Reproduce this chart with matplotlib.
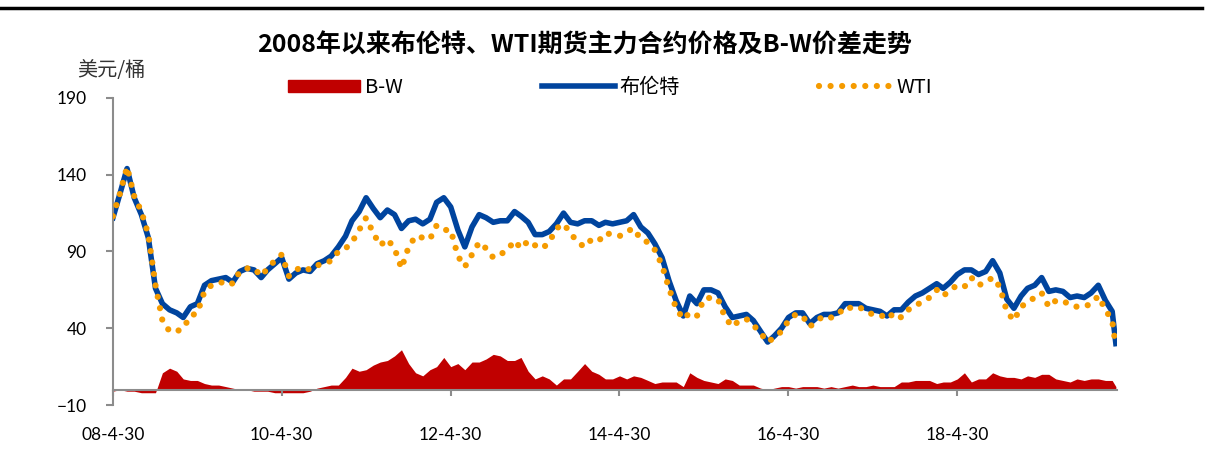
import matplotlib
matplotlib.use('Agg')
import matplotlib.pyplot as plt
import pandas as pd
from matplotlib.patches import Patch
from matplotlib.lines import Line2D

plt.rcParams['font.family'] = ['Lato', 'Noto Sans CJK SC', 'DejaVu Sans']

# Month-end prices, USD/bbl (last point is mid-March 2020)
dates = list(pd.date_range('2008-04-30', periods=143, freq=pd.offsets.MonthEnd())) + [pd.Timestamp('2020-03-16')]

brent = [
    112, 128, 144, 125, 114, 99, 66, 56, 52,
    50, 47, 54, 56, 68, 71, 72, 73, 70, 77, 79, 78,
    73, 78, 82, 86, 72, 76, 78, 77, 82, 84, 87, 93,
    100, 110, 116, 125, 118, 112, 117, 114, 105, 110, 111, 108,
    111, 122, 125, 119, 104, 93, 106, 114, 112, 109, 110, 110,
    116, 113, 109, 101, 101, 103, 108, 115, 109, 108, 110, 110,
    107, 109, 108, 109, 110, 114, 106, 102, 95, 86, 71, 58,
    48, 61, 56, 65, 65, 63, 54, 47, 48, 49, 45, 38,
    31, 35, 40, 47, 50, 50, 43, 47, 49, 49, 50, 56,
    56, 56, 53, 52, 51, 48, 52, 52, 57, 61, 63, 66,
    69, 66, 70, 75, 78, 78, 75, 77, 84, 76, 59, 53,
    61, 66, 68, 73, 64, 65, 64, 60, 61, 60, 63, 68,
    58, 51, 30,
]

wti = [
    113, 128, 145, 126, 116, 101, 68, 45, 38,
    38, 40, 48, 50, 64, 68, 69, 71, 69, 77, 79, 79,
    74, 79, 84, 88, 74, 78, 80, 78, 81, 82, 84, 90,
    92, 96, 104, 112, 102, 94, 98, 92, 79, 93, 100, 99,
    98, 107, 104, 104, 87, 80, 88, 96, 92, 86, 88, 91,
    97, 92, 97, 94, 92, 96, 105, 108, 102, 96, 93, 98,
    97, 102, 101, 100, 103, 105, 98, 96, 91, 81, 66, 53,
    46, 50, 48, 59, 60, 59, 47, 41, 45, 46, 42, 37,
    31, 34, 38, 45, 49, 48, 41, 45, 48, 47, 49, 54,
    53, 54, 51, 49, 49, 46, 50, 47, 52, 55, 57, 60,
    65, 61, 65, 68, 67, 73, 68, 70, 73, 67, 51, 45,
    54, 57, 60, 63, 54, 58, 58, 55, 54, 54, 56, 61,
    52, 45, 28,
]

tick_dates = ['2008-04-30', '2010-04-30', '2012-04-30', '2014-04-30', '2016-04-30', '2018-04-30']
tick_labels = ['08-4-30', '10-4-30', '12-4-30', '14-4-30', '16-4-30', '18-4-30']
y_ticks = [-10, 40, 90, 140, 190]

spread = [b - w for b, w in zip(brent, wti)]

red = '#C00000'
blue = '#00449E'
orange = '#F59B00'
cjk = ['Noto Sans CJK SC', 'DejaVu Sans']
dots = (0, (0.001, 1.85))

fig = plt.figure(figsize=(12.08, 4.59), dpi=100)
ax = fig.add_axes([0.0935, 0.1176, 0.831, 0.669])

ax.fill_between(dates, 0, spread, color=red, linewidth=0, zorder=1)
ax.plot(dates, brent, color=blue, linewidth=4.0, solid_joinstyle='round', zorder=2)
ax.plot(dates, wti, color=orange, linewidth=4.5, linestyle=dots,
        dash_capstyle='round', zorder=3)

ax.set_ylim(-10, 190)
ax.set_yticks(y_ticks)
ax.set_xlim(pd.Timestamp('2008-04-30'), pd.Timestamp('2020-03-20'))
ax.set_xticks([pd.Timestamp(d) for d in tick_dates])
ax.set_xticklabels(tick_labels)

for s in ['top', 'right']:
    ax.spines[s].set_visible(False)
ax.spines['left'].set_color('#8C8C8C')
ax.spines['left'].set_linewidth(1.5)
ax.spines['bottom'].set_position(('data', 0))
ax.spines['bottom'].set_color('#8C8C8C')
ax.spines['bottom'].set_linewidth(1.5)
ax.spines['bottom'].set_zorder(4)

ax.tick_params(axis='y', length=5, width=1.5, color='#8C8C8C', pad=14, labelsize=12.5)
ax.tick_params(axis='x', length=4, width=1.5, color='#8C8C8C', pad=23, labelsize=12.5)

fig.text(0.484, 0.90, '2008年以来布伦特、WTI期货主力合约价格及B-W价差走势',
         ha='center', va='center', fontsize=18, fontweight='bold', family=cjk)
fig.text(0.064, 0.847, '美元/桶', ha='left', va='center', fontsize=14.5, family=cjk, color='#333333')

# rule across the top of the page
fig.add_artist(Line2D([0, 0.995], [0.982, 0.982], color='black', linewidth=2.5,
                      transform=fig.transFigure))

handles = [
    Patch(facecolor=red, edgecolor=red),
    Line2D([], [], color=blue, linewidth=4.0),
    Line2D([], [], color=orange, linewidth=4.5, linestyle=dots, dash_capstyle='round'),
]
leg = fig.legend(handles, ['B-W', '布伦特', 'WTI'], loc='center', bbox_to_anchor=(0.505, 0.81),
                 ncol=3, frameon=False, handlelength=3.6, handleheight=0.55,
                 columnspacing=6.9, handletextpad=0.25, prop={'family': cjk, 'size': 14.5})

fig.savefig('out.png', dpi=100)
